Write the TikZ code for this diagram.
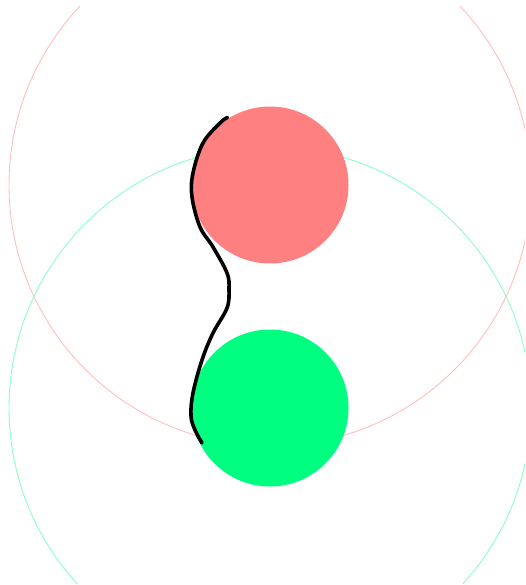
\documentclass[tikz,border=0pt]{standalone}
\usepackage{xcolor}
\definecolor{ballred}{RGB}{255, 128, 128}
\definecolor{ballgreen}{RGB}{0, 255, 128}
\definecolor{ringred}{RGB}{255, 190, 190}
\definecolor{ringgreen}{RGB}{140, 255, 200}
\tikzset{
  ring/.style={line width=0.9pt},
  ball/.style={draw=none},
  stroke/.style={line width=3.6pt, line cap=round, line join=round}
}

\begin{document}
\begin{tikzpicture}[x=1pt, y=-1pt]
    \useasboundingbox (0,0) rectangle (525,585);
    \clip (0,7) rectangle (525,583);
    % --- outer rings ---
    \draw[ring, ringred]   (270,185) circle[radius=261];
    \draw[ring, ringgreen] (270,408) circle[radius=261];

    % --- balls ---
    \fill[ball, ballred]   (270,185) circle[radius=78.5];
    \fill[ball, ballgreen] (270,408) circle[radius=78.5];

    % --- hand stroke ---
    \draw[stroke] plot[smooth, tension=0.6] coordinates {
        (227.5,117.5) (220,123) (203,143) (193,173) (192,197) (200,227)
        (213,247) (227,273) (229,289) (227,308) (213,333) (202,360)
        (193,393) (191,416) (195,430) (202,443)};
\end{tikzpicture}
\end{document}
